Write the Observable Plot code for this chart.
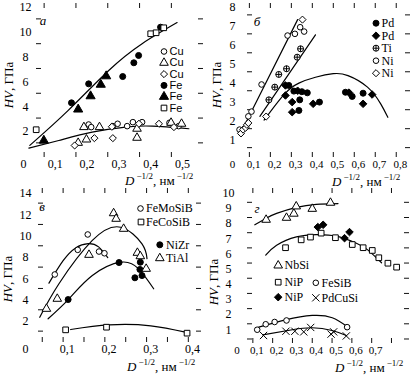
<!DOCTYPE html>
<html><head><meta charset="utf-8">
<script src="https://cdn.jsdelivr.net/npm/d3@7"></script>
<script src="https://cdn.jsdelivr.net/npm/@observablehq/plot@0.6"></script>
<style>
html,body{margin:0;padding:0;background:#fff;}
#root{position:relative;width:414px;height:375px;overflow:hidden;background:#fff;}
.panel{position:absolute;}
.panel svg{display:block;overflow:visible;}
</style></head><body><div id="root"></div>
<script>
// ---------- Panel а ----------
const cuCircle   = [[0.205,2.48],[0.213,2.27],[0.281,2.35],[0.296,2.54],[0.326,2.35],[0.344,2.67],[0.373,2.67],[0.459,2.62],[0.488,2.35]];
const cuTriangle = [[0.172,1.0],[0.19,2.27],[0.198,1.27],[0.239,2.27],[0.357,2.14],[0.357,1.41],[0.464,2.62],[0.497,2.54]];
const cuDiamond  = [[0.161,0.79],[0.223,1.38],[0.281,1.38],[0.278,2.3],[0.363,2.54],[0.426,2.54],[0.473,2.27]];
const feCircle   = [[0.151,4.23],[0.205,5.76],[0.312,6.35],[0.347,7.46],[0.362,8.05],[0.431,10.33]];
const feTriangle = [[0.064,1.19],[0.172,3.7],[0.211,4.77],[0.243,5.7],[0.26,6.38]];
const feSquare   = [[0.04,2.06],[0.40,9.8],[0.417,9.88],[0.441,10.28]];
const aUpperCurve = [[0.02,0.8],[0.14,3.6],[0.268,6.84],[0.373,9.0],[0.483,10.7]];
const aLowerCurve = [[0.017,0.57],[0.111,1.19],[0.216,1.86],[0.321,2.27],[0.405,2.35],[0.52,2.14]];
const aXLabels = [0,0.1,0.2,0.3,0.4,0.5];
const aYLabels = [2,4,6,8,10,12];
const aXTicks = [0.065,0.165,0.265,0.365,0.465];
const aYTicks = [1,3,5,7,9,11];
const aLegend = ["Cu","Cu","Cu","Fe","Fe","Fe"];

// ---------- Panel б ----------
const pdCircle  = [[0.268,3.78],[0.292,3.48],[0.33,3.45],[0.356,3.39],[0.32,3.02],[0.414,2.9],[0.538,3.42],[0.57,3.2],[0.622,3.37],[0.316,2.46]];
const pdDiamond = [[0.252,3.78],[0.252,3.25],[0.284,2.9],[0.284,2.37],[0.384,2.81],[0.555,3.4],[0.622,2.81],[0.665,3.3],[0.31,3.5]];
const tiCircle  = [[0.173,3.02],[0.201,3.69],[0.22,4.36],[0.257,4.66],[0.308,5.27],[0.324,5.71]];
const niCircle  = [[0.033,1.45],[0.075,2.15],[0.09,2.4],[0.138,3.83],[0.262,6.41],[0.297,6.5],[0.322,6.85],[0.341,6.62]];
const niDiamond = [[0.04,1.25],[0.05,1.45],[0.062,1.55],[0.068,1.7],[0.075,1.8],[0.16,2.14],[0.333,7.25]];
const bNiLine = [[0.06,1.75],[0.31,7.25]];
const bTiLine = [[0.13,2.15],[0.395,6.45]];
const bHumpCurve = [[0.15,1.95],[0.245,3.3],[0.316,3.9],[0.395,4.21],[0.48,4.4],[0.55,4.3],[0.643,3.69],[0.706,2.81],[0.74,2.1]];
const bXLabels = [0,0.1,0.2,0.3,0.4,0.5,0.6,0.7,0.8];
const bYLabels = [1,2,3,4,5,6,7,8];
const bXTicks = [0.08,0.18,0.28,0.38,0.48,0.58,0.68,0.78];
const bYTicks = [0.5,1.5,2.5,3.5,4.5,5.5,6.5,7.5];
const bLegend = ["Pd","Pd","Ti","Ni","Ni"];

// ---------- Panel в ----------
const feMoSiB = [[0.07,6.31],[0.125,8.62],[0.149,10.06],[0.176,8.46],[0.189,8.3]];
const feCoSiB = [[0.096,1.12],[0.194,1.37],[0.387,0.81]];
const niZr    = [[0.102,3.96],[0.224,7.43],[0.275,7.46],[0.274,6.78],[0.262,6.0],[0.279,6.21]];
const tiAl    = [[0.05,3.09],[0.076,4.03],[0.152,8.15],[0.211,12.05],[0.217,11.53],[0.235,10.59],[0.268,8.34],[0.275,8.02],[0.289,6.84]];
const vFeMoSiBCurve = [[0.056,5.5],[0.09,7.6],[0.12,8.8],[0.15,9.2],[0.175,8.9],[0.197,7.9]];
const vTiAlCurve    = [[0.034,2.3],[0.08,5.44],[0.16,9.5],[0.228,10.74],[0.279,9.18],[0.291,7.8]];
const vNiZrCurve    = [[0.054,2.16],[0.104,4.03],[0.16,6.21],[0.228,7.46],[0.271,6.84],[0.307,4.97]];
const vFeCoSiBCurve = [[0.108,1.15],[0.2,1.58],[0.3,1.5],[0.383,0.9]];
const vXLabels = [0,0.1,0.2,0.3,0.4];
const vYLabels = [2,4,6,8,10,12,14];
const vXTicks = [0.04,0.09,0.14,0.19,0.24,0.29,0.34,0.39];
const vYTicks = [1,3,5,7,9,11,13];
const vLegend = ["FeMoSiB","FeCoSiB","NiZr","TiAl"];

// ---------- Panel г ----------
const nbSi      = [[0.147,8.18],[0.25,8.31],[0.287,8.58],[0.299,9.06],[0.38,8.9],[0.472,9.3]];
const niPSquare = [[0.245,6.34],[0.324,6.86],[0.371,7.04],[0.425,7.3],[0.497,7.0],[0.582,6.55],[0.637,6.34],[0.683,6.16],[0.716,5.68],[0.762,5.32],[0.806,5.06]];
const niPDiamond = [[0.408,7.7],[0.435,7.85],[0.543,6.97],[0.568,7.37]];
const feSiB     = [[0.102,0.94],[0.145,1.3],[0.19,1.45],[0.25,1.55],[0.556,1.11]];
const pdCuSi    = [[0.134,0.56],[0.247,0.84],[0.292,0.84],[0.337,0.8],[0.372,1.09],[0.475,0.65],[0.488,0.8],[0.552,0.53]];
const gNbSiCurve  = [[0.09,7.85],[0.15,8.3],[0.2,8.6],[0.3,9.0],[0.4,9.2],[0.51,9.25]];
const gNiPCurve   = [[0.145,5.85],[0.2,6.5],[0.3,7.05],[0.4,7.2],[0.5,7.1],[0.6,6.65],[0.66,6.2],[0.73,5.35]];
const gFeSiBCurve = [[0.11,1.11],[0.245,1.59],[0.38,1.88],[0.481,1.73],[0.556,1.15]];
const gPdCuSiCurve = [[0.13,0.6],[0.279,0.94],[0.38,1.07],[0.48,0.89],[0.552,0.56]];
const gXLabels = [0,0.1,0.2,0.3,0.4,0.5,0.6,0.7];
const gYLabels = [1,2,3,4,5,6,7,8,9,10];
const gXTicks = [0.08,0.18,0.28,0.38,0.48,0.58,0.68,0.78];
const gYTicks = [0.33,1.33,2.33,3.33,4.33,5.33,6.33,7.33,8.33,9.33];
const gLegend = ["NbSi","NiP","NiP","FeSiB","PdCuSi"];

// ---------- drawing ----------
const SERIF = "'Liberation Serif','Times New Roman',serif";
const SANS = "'Liberation Sans',Arial,sans-serif";
const fmt = v => v === 0 ? "0" : String(v).replace(".", ",");

const OPEN_C = {symbol:"circle", fill:"white", r:2.8};
const FILL_C = {symbol:"circle", fill:"black", r:3};
const OPEN_T = {symbol:"triangle", fill:"white", r:3.2};
const FILL_T = {symbol:"triangle", fill:"black", r:3.4};
const OPEN_D = {symbol:"diamond2", fill:"white", r:3.2};
const FILL_D = {symbol:"diamond2", fill:"black", r:3.4};
const OPEN_S = {symbol:"square", fill:"white", r:3.2};
const TIMES  = {symbol:"times", fill:"none", r:3.4};
const OPLUS  = {symbol:"circle", fill:"white", r:3, plus:true};

function symbolMarks(data, st, extra) {
  const base = {symbol: st.symbol, r: st.r, fill: st.fill, stroke: "black", strokeWidth: 1, ...extra};
  const out = [Plot.dot(data, base)];
  if (st.plus) out.push(Plot.dot(data, {...base, symbol: "plus", r: 2.1, fill: "none"}));
  return out;
}

function makePanel(p) {
  const W = 207, H = 190;
  const [xa, xb] = p.xDomain, [ya, yb] = p.yDomain;
  const fw = W - p.ml - p.mr, fh = H - p.mt - p.mb;
  const tx = 5 * (xb - xa) / fw, ty = 5 * (yb - ya) / fh;
  const marks = [];
  const tk = {stroke: "#111", strokeWidth: 1};
  marks.push(Plot.ruleX(p.xTicks, {x: d => d, y1: () => ya, y2: () => ya + ty, ...tk}));
  marks.push(Plot.ruleX(p.xTicks, {x: d => d, y1: () => yb, y2: () => yb - ty, ...tk}));
  marks.push(Plot.ruleY(p.yTicks, {y: d => d, x1: () => xa, x2: () => xa + tx, ...tk}));
  marks.push(Plot.ruleY(p.yTicks, {y: d => d, x1: () => xb, x2: () => xb - tx, ...tk}));
  marks.push(Plot.text(p.xLabels, {x: d => d, text: fmt, frameAnchor: "bottom", dy: p.xdy, lineAnchor: "middle", textAnchor: "middle", fontSize: p.fs}));
  marks.push(Plot.text(p.yLabels, {y: d => d, text: d => String(d), frameAnchor: "left", dx: p.ydx, dy: p.ydy || 0, lineAnchor: "middle", textAnchor: "middle", fontSize: 12}));
  for (const ln of p.lines) marks.push(Plot.line(ln, {x: d => d[0], y: d => d[1], curve: "natural", stroke: "black", strokeWidth: 1.2}));
  for (const s of p.series) marks.push(...symbolMarks(s.data, s.st, {x: d => d[0], y: d => d[1]}));
  p.legend.forEach((lg) => {
    const [sx, sy, txp] = lg.pos;
    marks.push(...symbolMarks([0], lg.st, {frameAnchor: "top-left", dx: sx - p.ml, dy: sy - p.mt}));
    marks.push(Plot.text([lg.label], {text: d => d, frameAnchor: "top-left", dx: txp - p.ml, dy: sy - p.mt, textAnchor: "start", lineAnchor: "middle", fontFamily: p.legendFont || SERIF, fontSize: p.legendSize || 12}));
  });
  const svg = Plot.plot({
    width: W, height: H, marginLeft: p.ml, marginRight: p.mr, marginTop: p.mt, marginBottom: p.mb,
    x: {domain: p.xDomain, axis: null}, y: {domain: p.yDomain, axis: null},
    style: {fontFamily: SERIF, fontSize: "12px", background: "transparent", color: "#000", overflow: "visible"},
    marks
  });
  const g = d3.select(svg);
  g.append("text").attr("x", p.letter[0]).attr("y", p.letter[1]).attr("text-anchor", "middle").attr("dominant-baseline", "middle")
    .attr("font-family", SERIF).attr("font-style", "italic").attr("font-size", 13).text(p.letter[2]);
  const yt = g.append("text").attr("transform", `translate(${p.yTitle[0]},${p.yTitle[1]}) rotate(-90)`)
    .attr("text-anchor", "middle").attr("dominant-baseline", "middle").attr("font-family", SERIF).attr("font-size", 13);
  yt.append("tspan").attr("font-style", "italic").text("HV");
  yt.append("tspan").text(", ГПа");
  const xt = g.append("text").attr("x", p.xTitle[0]).attr("y", p.xTitle[1]).attr("text-anchor", "start")
    .attr("font-family", SERIF).attr("font-size", 13);
  xt.append("tspan").attr("font-style", "italic").text("D");
  xt.append("tspan").attr("font-size", 9).attr("dy", -6).attr("dx", 2).text("−1/2");
  xt.append("tspan").attr("dy", 6).text(", нм");
  xt.append("tspan").attr("font-size", 9).attr("dy", -6).attr("dx", 2).text("−1/2");
  const div = document.createElement("div");
  div.className = "panel";
  div.style.left = p.left + "px"; div.style.top = p.top + "px";
  div.appendChild(svg);
  document.getElementById("root").appendChild(div);
}

makePanel({
  left: 0, top: 0, ml: 36, mr: 4, mt: 3, mb: 33,
  xDomain: [0.041, 0.566], yDomain: [-0.18, 12.24],
  xTicks: aXTicks, yTicks: aYTicks, xLabels: aXLabels, yLabels: aYLabels, xdy: 7, ydx: -11, ydy: 1, fs: 12,
  lines: [aUpperCurve, aLowerCurve],
  series: [{data: cuCircle, st: OPEN_C}, {data: cuTriangle, st: OPEN_T}, {data: cuDiamond, st: OPEN_D},
           {data: feCircle, st: FILL_C}, {data: feTriangle, st: FILL_T}, {data: feSquare, st: OPEN_S}],
  legend: [OPEN_C, OPEN_T, OPEN_D, FILL_C, FILL_T, OPEN_S].map((st, i) => ({st, label: aLegend[i], pos: [163.5, 51 + 11.3 * i, 169]})),
  legendFont: SANS, legendSize: 11,
  letter: [43, 22, "а"], yTitle: [10, 85], xTitle: [125, 185]
});

makePanel({
  left: 207, top: 0, ml: 40, mr: 4, mt: 3, mb: 33,
  xDomain: [0.071, 0.848], yDomain: [-0.02, 8.1],
  xTicks: bXTicks, yTicks: bYTicks, xLabels: bXLabels, yLabels: bYLabels, xdy: 7, ydx: -15, ydy: 2, fs: 11,
  lines: [bNiLine, bTiLine, bHumpCurve],
  series: [{data: pdCircle, st: FILL_C}, {data: pdDiamond, st: FILL_D}, {data: tiCircle, st: OPLUS},
           {data: niCircle, st: OPEN_C}, {data: niDiamond, st: OPEN_D}],
  legend: [FILL_C, FILL_D, OPLUS, OPEN_C, OPEN_D].map((st, i) => ({st, label: bLegend[i], pos: [168.5, 22.7 + 12.5 * i, 174]})),
  letter: [50, 23, "б"], yTitle: [11, 85], xTitle: [125, 186]
});

makePanel({
  left: 0, top: 185, ml: 38, mr: 6, mt: 3, mb: 33,
  xDomain: [0.031, 0.4216], yDomain: [-0.066, 14.37],
  xTicks: vXTicks, yTicks: vYTicks, xLabels: vXLabels, yLabels: vYLabels, xdy: 7, ydx: -13, ydy: 1, fs: 12,
  lines: [vFeMoSiBCurve, vTiAlCurve, vNiZrCurve, vFeCoSiBCurve],
  series: [{data: feMoSiB, st: OPEN_C}, {data: feCoSiB, st: OPEN_S}, {data: niZr, st: FILL_C}, {data: tiAl, st: OPEN_T}],
  legend: [
    {st: OPEN_C, label: vLegend[0], pos: [140, 23, 145.5]},
    {st: OPEN_S, label: vLegend[1], pos: [140.5, 36.5, 145.5]},
    {st: FILL_C, label: vLegend[2], pos: [159.3, 59.3, 165.5]},
    {st: OPEN_T, label: vLegend[3], pos: [159.3, 72.7, 165.5]}
  ],
  letter: [42, 23, "в"], yTitle: [9, 94], xTitle: [127, 186]
});

makePanel({
  left: 207, top: 185, ml: 40, mr: 5, mt: 3, mb: 32,
  xDomain: [0.053, 0.871], yDomain: [0.033, 10.24],
  xTicks: gXTicks, yTicks: gYTicks, xLabels: gXLabels, yLabels: gYLabels, xdy: 7, ydx: -19, ydy: 1, fs: 11,
  lines: [gNbSiCurve, gNiPCurve, gFeSiBCurve, gPdCuSiCurve],
  series: [{data: nbSi, st: OPEN_T}, {data: niPSquare, st: OPEN_S}, {data: niPDiamond, st: FILL_D},
           {data: feSiB, st: OPEN_C}, {data: pdCuSi, st: TIMES}],
  legend: [
    {st: OPEN_T, label: gLegend[0], pos: [70.7, 80, 77]},
    {st: OPEN_S, label: gLegend[1], pos: [70.7, 96.7, 77]},
    {st: FILL_D, label: gLegend[2], pos: [70.7, 111.7, 77]},
    {st: OPEN_C, label: gLegend[3], pos: [108.3, 97.3, 114]},
    {st: TIMES, label: gLegend[4], pos: [108.3, 112.3, 114]}
  ],
  letter: [50, 25, "г"], yTitle: [8, 97], xTitle: [128, 187]
});
</script></body></html>
